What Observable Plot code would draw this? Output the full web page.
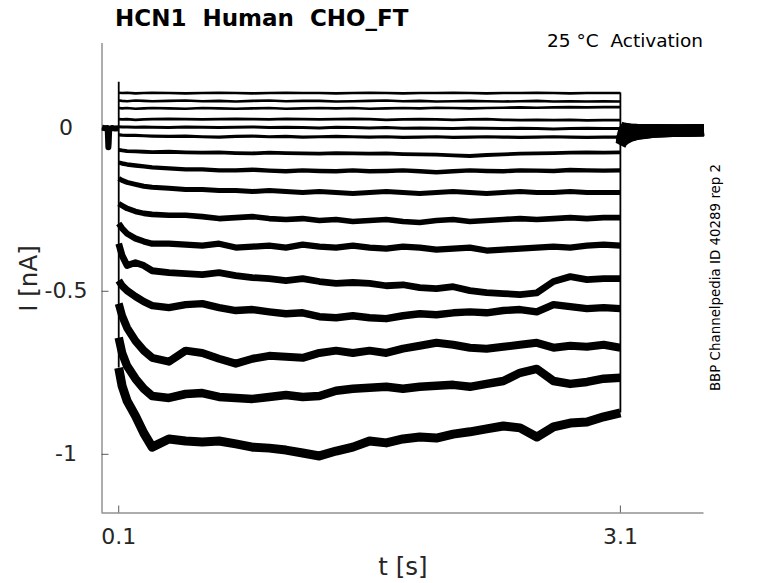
<!DOCTYPE html>
<html><head><meta charset="utf-8">
<script src="https://cdn.jsdelivr.net/npm/d3@7"></script>
<script src="https://cdn.jsdelivr.net/npm/@observablehq/plot@0.6"></script>
<style>
html,body{margin:0;padding:0;background:#fff;}
#chart svg{display:block;}
</style></head><body><div id="chart"></div>
<script>
// ---- data (nA vs s) ----
const xDomain = [0, 3.6];
const yDomain = [-1.18, 0.26];
const xTicks = [0.1, 3.1];
const yTicks = [0, -0.5, -1];
const stepStart = 0.1, stepEnd = 3.1;
const onsetPeak = 0.141;

const preT = [0, 0.02, 0.034, 0.036, 0.038, 0.040, 0.043, 0.06, 0.08, 0.1];
const preV = [0.002, 0.0, 0.001, -0.03, -0.058, -0.045, -0.004, 0.001, -0.001, 0.0];

const T = [0.1, 0.12, 0.15, 0.2, 0.25, 0.3, 0.4, 0.5, 0.6, 0.7, 0.8, 0.9, 1.0, 1.1, 1.2, 1.3, 1.4, 1.5, 1.6, 1.7, 1.8, 1.9, 2.0, 2.1, 2.2, 2.3, 2.4, 2.5, 2.6, 2.7, 2.8, 2.9, 3.0, 3.1];

const trace1 = [0.109, 0.108, 0.109, 0.107, 0.108, 0.109, 0.108, 0.107, 0.108, 0.109, 0.108, 0.107, 0.108, 0.109, 0.108, 0.108, 0.107, 0.108, 0.109, 0.108, 0.107, 0.108, 0.108, 0.109, 0.108, 0.107, 0.108, 0.108, 0.109, 0.108, 0.107, 0.108, 0.108, 0.108];
const trace2 = [0.085, 0.084, 0.083, 0.085, 0.084, 0.083, 0.084, 0.085, 0.083, 0.084, 0.082, 0.084, 0.085, 0.083, 0.084, 0.084, 0.082, 0.083, 0.084, 0.085, 0.083, 0.084, 0.082, 0.083, 0.084, 0.083, 0.082, 0.083, 0.084, 0.082, 0.083, 0.082, 0.083, 0.082];
const trace3 = [0.062, 0.061, 0.062, 0.060, 0.061, 0.062, 0.061, 0.060, 0.062, 0.061, 0.060, 0.061, 0.062, 0.060, 0.061, 0.062, 0.061, 0.062, 0.060, 0.061, 0.062, 0.061, 0.063, 0.062, 0.061, 0.062, 0.063, 0.064, 0.063, 0.064, 0.065, 0.064, 0.065, 0.065];
const trace4 = [0.028, 0.027, 0.028, 0.026, 0.027, 0.028, 0.029, 0.028, 0.027, 0.028, 0.029, 0.028, 0.027, 0.029, 0.028, 0.027, 0.028, 0.029, 0.028, 0.026, 0.027, 0.028, 0.027, 0.026, 0.027, 0.028, 0.026, 0.025, 0.026, 0.025, 0.026, 0.024, 0.025, 0.025];
const trace5 = [0.005, 0.004, 0.004, 0.003, 0.004, 0.003, 0.002, 0.004, 0.003, 0.002, 0.003, 0.004, 0.002, 0.003, 0.002, 0.001, 0.003, 0.002, 0.001, 0.002, 0.000, 0.001, 0.000, -0.001, 0.001, 0.000, -0.001, 0.000, -0.001, -0.002, -0.001, 0.000, -0.001, -0.001];
const trace6 = [-0.020, -0.021, -0.022, -0.022, -0.023, -0.024, -0.025, -0.024, -0.026, -0.027, -0.025, -0.024, -0.026, -0.025, -0.027, -0.026, -0.025, -0.026, -0.027, -0.026, -0.028, -0.027, -0.026, -0.028, -0.027, -0.026, -0.027, -0.028, -0.027, -0.026, -0.027, -0.028, -0.027, -0.027];
const trace7 = [-0.066, -0.068, -0.070, -0.071, -0.072, -0.073, -0.072, -0.074, -0.075, -0.074, -0.076, -0.077, -0.075, -0.076, -0.077, -0.078, -0.076, -0.077, -0.078, -0.077, -0.079, -0.080, -0.081, -0.083, -0.085, -0.082, -0.080, -0.078, -0.077, -0.076, -0.075, -0.074, -0.075, -0.074];
const trace8 = [-0.105, -0.108, -0.111, -0.114, -0.117, -0.120, -0.123, -0.126, -0.126, -0.129, -0.129, -0.127, -0.130, -0.132, -0.129, -0.131, -0.132, -0.129, -0.132, -0.131, -0.129, -0.132, -0.135, -0.132, -0.129, -0.131, -0.132, -0.129, -0.130, -0.131, -0.128, -0.129, -0.130, -0.129];
const trace9 = [-0.154, -0.160, -0.166, -0.172, -0.178, -0.181, -0.184, -0.188, -0.188, -0.191, -0.191, -0.194, -0.191, -0.194, -0.197, -0.194, -0.197, -0.200, -0.197, -0.194, -0.197, -0.200, -0.197, -0.194, -0.197, -0.200, -0.197, -0.194, -0.197, -0.197, -0.194, -0.197, -0.197, -0.197];
const trace10 = [-0.231, -0.237, -0.246, -0.255, -0.261, -0.264, -0.267, -0.267, -0.271, -0.277, -0.274, -0.271, -0.277, -0.280, -0.277, -0.283, -0.280, -0.286, -0.283, -0.280, -0.286, -0.289, -0.283, -0.280, -0.286, -0.283, -0.280, -0.277, -0.280, -0.277, -0.274, -0.277, -0.274, -0.274];
const trace11 = [-0.292, -0.307, -0.323, -0.338, -0.347, -0.354, -0.354, -0.357, -0.360, -0.354, -0.366, -0.363, -0.360, -0.366, -0.357, -0.363, -0.366, -0.360, -0.366, -0.369, -0.363, -0.366, -0.372, -0.369, -0.366, -0.375, -0.372, -0.369, -0.366, -0.363, -0.366, -0.360, -0.357, -0.360];
const trace12 = [-0.354, -0.390, -0.421, -0.412, -0.421, -0.437, -0.443, -0.446, -0.449, -0.443, -0.452, -0.458, -0.461, -0.467, -0.461, -0.470, -0.476, -0.473, -0.476, -0.483, -0.480, -0.489, -0.492, -0.486, -0.498, -0.504, -0.507, -0.510, -0.505, -0.470, -0.455, -0.464, -0.461, -0.461];
const trace13 = [-0.467, -0.483, -0.498, -0.516, -0.532, -0.544, -0.550, -0.541, -0.538, -0.550, -0.559, -0.556, -0.563, -0.569, -0.566, -0.578, -0.581, -0.575, -0.581, -0.584, -0.575, -0.569, -0.572, -0.566, -0.563, -0.566, -0.559, -0.556, -0.563, -0.541, -0.547, -0.553, -0.550, -0.553];
const trace14 = [-0.538, -0.575, -0.612, -0.652, -0.682, -0.704, -0.716, -0.682, -0.689, -0.707, -0.722, -0.707, -0.698, -0.701, -0.704, -0.689, -0.682, -0.689, -0.682, -0.689, -0.676, -0.667, -0.658, -0.664, -0.673, -0.676, -0.670, -0.664, -0.658, -0.673, -0.667, -0.670, -0.664, -0.673];
const trace15 = [-0.642, -0.689, -0.729, -0.768, -0.799, -0.821, -0.827, -0.815, -0.812, -0.824, -0.827, -0.830, -0.824, -0.818, -0.824, -0.821, -0.805, -0.799, -0.796, -0.793, -0.799, -0.793, -0.790, -0.787, -0.793, -0.784, -0.775, -0.750, -0.738, -0.775, -0.784, -0.778, -0.768, -0.765];
const trace16 = [-0.735, -0.790, -0.836, -0.882, -0.935, -0.978, -0.953, -0.959, -0.962, -0.959, -0.968, -0.978, -0.981, -0.987, -0.996, -1.005, -0.990, -0.978, -0.959, -0.965, -0.953, -0.947, -0.950, -0.938, -0.931, -0.922, -0.913, -0.919, -0.947, -0.916, -0.904, -0.901, -0.885, -0.873];

const tailT = [3.1, 3.11, 3.13, 3.16, 3.2, 3.3, 3.45, 3.6];
const tail1 = [0.004, 0.002, 0.000, -0.002, -0.003, -0.004, -0.005, -0.004];
const tail2 = [0.002, 0.000, -0.002, -0.003, -0.004, -0.005, -0.005, -0.005];
const tail3 = [0.000, -0.002, -0.003, -0.004, -0.005, -0.005, -0.006, -0.005];
const tail4 = [-0.003, -0.004, -0.005, -0.005, -0.006, -0.006, -0.006, -0.005];
const tail5 = [-0.006, -0.006, -0.006, -0.006, -0.006, -0.006, -0.006, -0.006];
const tail6 = [-0.010, -0.009, -0.008, -0.008, -0.007, -0.006, -0.006, -0.006];
const tail7 = [-0.015, -0.013, -0.011, -0.010, -0.009, -0.007, -0.006, -0.006];
const tail8 = [-0.020, -0.017, -0.014, -0.012, -0.010, -0.008, -0.007, -0.006];
const tail9 = [-0.025, -0.021, -0.017, -0.014, -0.012, -0.009, -0.007, -0.006];
const tail10 = [-0.030, -0.025, -0.020, -0.016, -0.013, -0.009, -0.007, -0.007];
const tail11 = [-0.034, -0.028, -0.022, -0.018, -0.014, -0.010, -0.008, -0.007];
const tail12 = [-0.038, -0.031, -0.025, -0.020, -0.015, -0.010, -0.008, -0.007];
const tail13 = [-0.042, -0.034, -0.027, -0.021, -0.016, -0.011, -0.008, -0.007];
const tail14 = [-0.045, -0.037, -0.029, -0.022, -0.017, -0.011, -0.009, -0.007];
const tail15 = [-0.048, -0.039, -0.031, -0.024, -0.018, -0.012, -0.009, -0.008];
const tail16 = [-0.052, -0.042, -0.033, -0.025, -0.019, -0.012, -0.009, -0.008];

const titleText = "HCN1  Human  CHO_FT";
const condText = "25 °C  Activation";
const sideText = "BBP Channelpedia ID 40289 rep 2";
const xLabel = "t [s]";
const yLabel = "I [nA]";

// ---- build ----
const traces = [trace1, trace2, trace3, trace4, trace5, trace6, trace7, trace8, trace9, trace10, trace11, trace12, trace13, trace14, trace15, trace16];
const tails = [tail1, tail2, tail3, tail4, tail5, tail6, tail7, tail8, tail9, tail10, tail11, tail12, tail13, tail14, tail15, tail16];
const lineWidths = [2.6, 2.6, 2.6, 2.8, 3, 3.2, 3.8, 4.4, 5, 5.6, 6.2, 6.8, 7.4, 8, 8.5, 9];

const preRows = preT.map((t, i) => ({t, v: preV[i]}));
const tailRows = [];
tails.forEach((vals, k) => tailT.forEach((t, i) => tailRows.push({k, t, v: vals[i]})));

const W = 778, H = 583;
const mL = 101.5, mR = 74.5, mT = 43, mB = 70.5;
const fw = W - mL - mR, fh = H - mT - mB;
const axisColor = "#5a5a5a";
const fmt = d => String(d);

const firsts = traces.map(a => a[0]);
const lasts = traces.map(a => a[a.length - 1]);
const tailFirsts = tails.map(a => a[0]);

const marks = [
  Plot.ruleX([xDomain[0]], {stroke: axisColor, strokeWidth: 1}),
  Plot.ruleY([yDomain[0]], {stroke: axisColor, strokeWidth: 1}),
  Plot.tickX(xTicks, {x: d => d, insetTop: fh - 7, stroke: axisColor, strokeWidth: 1}),
  Plot.tickY(yTicks, {y: d => d, insetRight: fw - 7, stroke: axisColor, strokeWidth: 1}),
  Plot.line(preRows, {x: "t", y: "v", stroke: "black", strokeWidth: 6, strokeLinecap: "butt"}),
  ...traces.map((vals, k) => Plot.line(T.map((t, i) => ({t, v: vals[i]})), {
    x: "t", y: "v", stroke: "black", strokeWidth: lineWidths[k], strokeLinecap: "butt", strokeLinejoin: "round"
  })),
  Plot.line(tailRows, {x: "t", y: "v", z: "k", stroke: "black", strokeWidth: 11, strokeLinecap: "butt"}),
  Plot.ruleX([stepStart], {y1: Math.min(...firsts), y2: onsetPeak, stroke: "black", strokeWidth: 1.8}),
  Plot.ruleX([stepEnd], {y1: Math.min(...lasts, ...tailFirsts), y2: Math.max(...lasts, ...tailFirsts), stroke: "black", strokeWidth: 1.8}),
  Plot.text(xTicks, {x: d => d, text: fmt, frameAnchor: "bottom", lineAnchor: "bottom", dy: 31, fontSize: 22, fill: "#262626", textAnchor: "middle"}),
  Plot.text(yTicks, {y: d => d, text: fmt, frameAnchor: "left", lineAnchor: "middle", dx: -36, fontSize: 22, fill: "#262626", textAnchor: "middle"})
];

const chart = Plot.plot({
  width: W, height: H,
  marginLeft: mL, marginRight: mR, marginTop: mT, marginBottom: mB,
  x: {domain: xDomain, axis: null},
  y: {domain: yDomain, axis: null},
  style: {fontFamily: "DejaVu Sans", background: "#fff", overflow: "visible"},
  marks
});
document.getElementById("chart").appendChild(chart);

const svg = d3.select(chart);
const addText = (txt, attrs) => {
  const t = svg.append("text").text(txt).style("white-space", "pre").style("font-family", "DejaVu Sans");
  Object.entries(attrs).forEach(([k, v]) => t.attr(k, v));
  return t;
};
addText(titleText, {x: 115, y: 26, "font-size": 23, "font-weight": "bold", "text-anchor": "start", fill: "#000"});
addText(condText, {x: 703, y: 47, "font-size": 18.5, "text-anchor": "end", fill: "#000"});
addText(sideText, {transform: "translate(720,277.5) rotate(-90)", "font-size": 13.4, "text-anchor": "middle", fill: "#000"});
addText(yLabel, {transform: "translate(37,278.5) rotate(-90)", "font-size": 24.5, "text-anchor": "middle", fill: "#262626"});
addText(xLabel, {x: 403, y: 575, "font-size": 24.5, "text-anchor": "middle", fill: "#262626"});
</script>
</body></html>
